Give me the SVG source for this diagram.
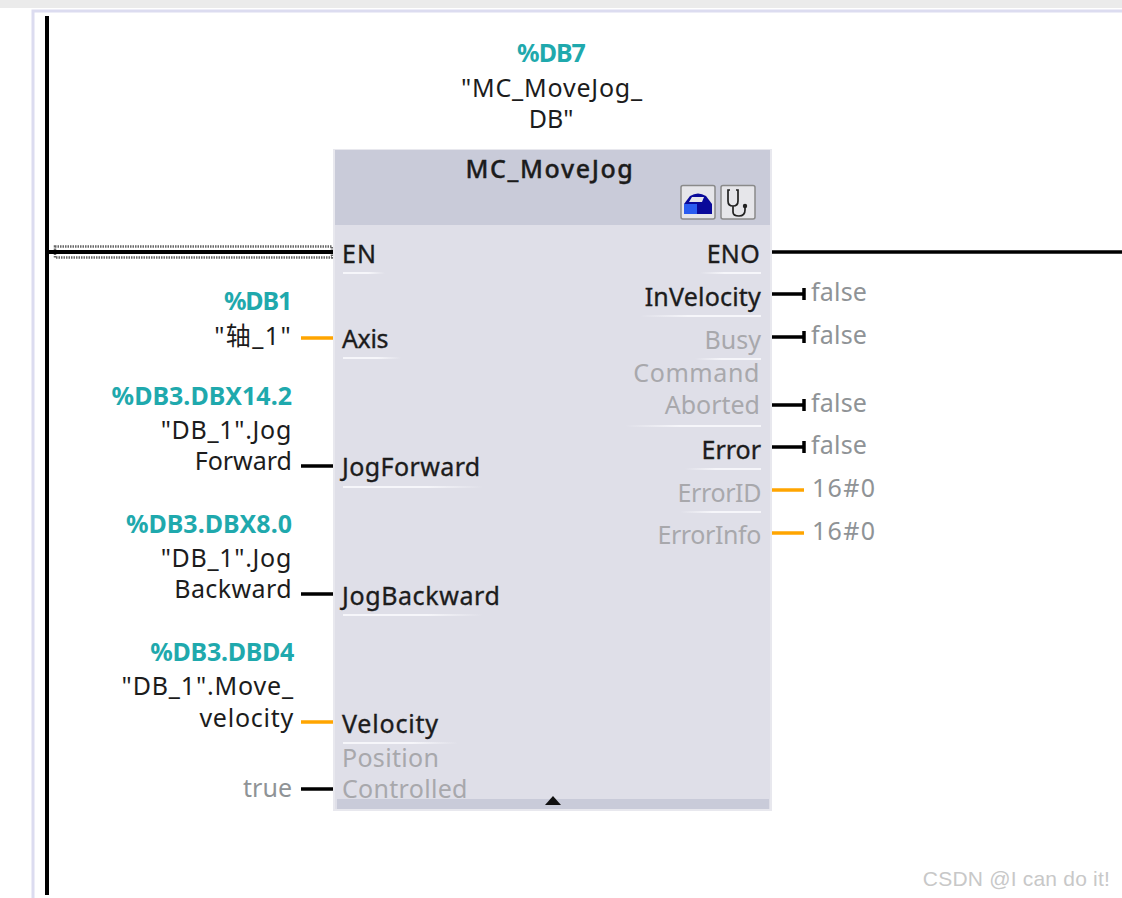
<svg xmlns="http://www.w3.org/2000/svg" width="1122" height="898" viewBox="0 0 1122 898">
<style>
text{font-family:"Noto Sans","DejaVu Sans",sans-serif;font-size:25px;fill:#1c1c1c}
.b{stroke:#1c1c1c;stroke-width:.35px}
.g{fill:#a8a8ac}
.v{fill:#8f9396}
.t{fill:#1fa9ad;font-weight:700}
.e{text-anchor:end}
.m{text-anchor:middle}
.ln{stroke:#000;stroke-width:3.5;fill:none}
.or{stroke:#ffa500;stroke-width:3.5;fill:none}
.ul{fill:url(#fadeR);height:2px}
.ur{fill:url(#fadeL);height:2px}
</style>
<defs>
<linearGradient id="fadeR"><stop offset="0" stop-color="#f6f6fa"/><stop offset=".6" stop-color="#f6f6fa"/><stop offset="1" stop-color="#f6f6fa" stop-opacity="0"/></linearGradient>
<linearGradient id="fadeL"><stop offset="0" stop-color="#f6f6fa" stop-opacity="0"/><stop offset=".4" stop-color="#f6f6fa"/><stop offset="1" stop-color="#f6f6fa"/></linearGradient>
</defs>
<rect width="1122" height="898" fill="#fff"/>
<rect x="0" y="0" width="1122" height="8" fill="#ebebeb"/>
<path d="M33 898V11H1122" fill="none" stroke="#dcdcf0" stroke-width="3"/>
<g id="connectors">
<path d="M47 16V895" stroke="#000" stroke-width="4" fill="none"/>
<path class="ln" d="M771 252H1122"/>
<rect x="55" y="246.5" width="277" height="11" fill="#fff" stroke="#666" stroke-width="2.5" stroke-dasharray="1.5 1"/>
<path d="M49 252H333" stroke="#000" stroke-width="4" fill="none"/>
<path class="or" d="M301 338H333"/>
<path class="ln" d="M301 466H333"/>
<path class="ln" d="M301 594H333"/>
<path class="or" d="M301 722H333"/>
<path class="ln" d="M301 789H333"/>
<path class="ln" d="M771 294H804M804 288V300"/>
<path class="ln" d="M771 337H804M804 331V343"/>
<path class="ln" d="M771 405H804M804 399V411"/>
<path class="ln" d="M771 447H804M804 441V453"/>
<path class="or" d="M771 490H804"/>
<path class="or" d="M771 533H804"/>
</g>
<g id="block">
<rect x="334" y="150" width="437" height="660" fill="#dfdfe8" stroke="#e8e8ee" stroke-width="2"/>
<rect x="335" y="150" width="435" height="75" fill="#c9cbd9"/>
<rect x="337" y="799" width="432" height="10" fill="#c9cbd9"/>
<path d="M545 805L553 796L561 805Z" fill="#111"/>
<text x="550" y="178" class="m b" style="letter-spacing:1.6px;font-weight:500">MC_MoveJog</text>
<g id="icon-tool">
<rect x="681" y="185.500" width="34" height="33.500" rx="2" fill="#e6e6ea" stroke="#8a8a8a" stroke-width="1.5"/>
<path d="M684 214V204L690 196Q698 191 706 196L712 204V214Z" fill="#0a0a9a"/>
<path d="M692 197H704L702 202H689Z" fill="#e6e6ea"/>
<path d="M684 214V204H697V214Z" fill="#2a5cf0"/>
</g>
<g id="icon-scope">
<rect x="721" y="185.500" width="34" height="33.500" rx="2" fill="#e6e6ea" stroke="#8a8a8a" stroke-width="1.500"/>
<path d="M730 190H728V201Q728 206 733 206Q738 206 738 201V190H736M733 206V212Q733 216 739 216Q745 216 745 210V207" fill="none" stroke="#222" stroke-width="1.700"/>
<circle cx="745" cy="206" r="2.200" fill="#222"/>
</g>
</g>
<g id="pins">
<text x="342" y="263" class="b" style="letter-spacing:1px">EN</text><rect class="ul" x="343" y="272" width="42"/>
<text x="342" y="348" class="b" style="letter-spacing:-.4px">Axis</text><rect class="ul" x="343" y="357" width="58"/>
<text x="342" y="476" class="b" style="letter-spacing:.4px">JogForward</text><rect class="ul" x="343" y="486" width="140"/>
<text x="342" y="605" class="b" style="letter-spacing:.6px">JogBackward</text><rect class="ul" x="343" y="614" width="140"/>
<text x="342" y="733" class="b" style="letter-spacing:.8px">Velocity</text><rect class="ul" x="343" y="742" width="115"/>
<text x="342" y="767" class="g" style="letter-spacing:.3px">Position</text>
<text x="342" y="798" class="g" style="letter-spacing:.3px">Controlled</text>
<text x="760" y="263" class="e b" style="letter-spacing:.3px">ENO</text><rect class="ur" x="700" y="272" width="61"/>
<text x="761" y="306" class="e b" style="letter-spacing:.2px">InVelocity</text><rect class="ur" x="640" y="315" width="121"/>
<text x="761" y="349" class="g e">Busy</text><rect class="ur" x="695" y="358" width="66"/>
<text x="760" y="382" class="g e" style="letter-spacing:.6px">Command</text>
<text x="760" y="414" class="g e">Aborted</text><rect class="ur" x="625" y="425" width="136"/>
<text x="761" y="459" class="e b">Error</text><rect class="ur" x="685" y="468" width="76"/>
<text x="761" y="502" class="g e" style="letter-spacing:-.4px">ErrorID</text><rect class="ur" x="680" y="511" width="81"/>
<text x="761" y="544" class="g e" style="letter-spacing:-.4px">ErrorInfo</text>
</g>
<g id="values">
<text x="811" y="301" class="v" style="letter-spacing:.2px">false</text>
<text x="811" y="344" class="v" style="letter-spacing:.2px">false</text>
<text x="811" y="412" class="v" style="letter-spacing:.2px">false</text>
<text x="811" y="454" class="v" style="letter-spacing:.2px">false</text>
<text x="812" y="497" class="v" style="letter-spacing:1.300px">16#0</text>
<text x="812" y="540" class="v" style="letter-spacing:1.300px">16#0</text>
<text x="292" y="797" class="v e">true</text>
</g>
<g id="operands">
<text x="551" y="62" class="t m" style="letter-spacing:-1px">%DB7</text>
<text x="552" y="97" class="m" style="letter-spacing:.8px">"MC_MoveJog_</text>
<text x="551" y="128" class="m">DB"</text>
<text x="291" y="310" class="t e" style="letter-spacing:-1.2px">%DB1</text>
<text x="292" y="345" class="e" style="font-family:'Noto Sans','Noto Sans CJK SC',sans-serif;letter-spacing:1.400px">"轴_1"</text>
<text x="292" y="405" class="t e">%DB3.DBX14.2</text>
<text x="292" y="533" class="t e">%DB3.DBX8.0</text>
<text x="292" y="439" class="e" style="letter-spacing:.7px">"DB_1".Jog</text>
<text x="292" y="470" class="e">Forward</text>
<text x="292" y="567" class="e" style="letter-spacing:.7px">"DB_1".Jog</text>
<text x="292" y="598" class="e" style="letter-spacing:.4px">Backward</text>
<text x="294" y="661" class="t e" style="letter-spacing:-.3px">%DB3.DBD4</text>
<text x="294" y="695" class="e" style="letter-spacing:.85px">"DB_1".Move_</text>
<text x="294" y="727" class="e" style="letter-spacing:.75px">velocity</text>
</g>
<text x="1110" y="886" class="e" style="font-family:'Liberation Sans',sans-serif;font-size:21px;fill:#c8c8c8;letter-spacing:.2px">CSDN @I can do it!</text>
</svg>
